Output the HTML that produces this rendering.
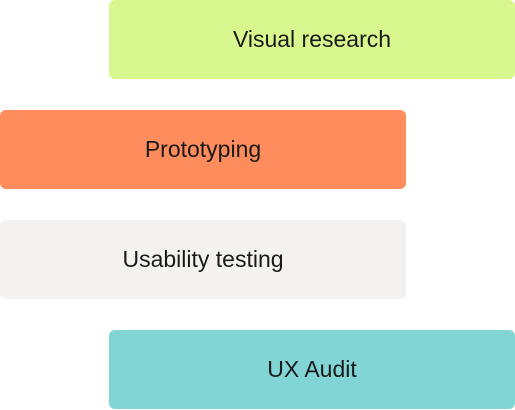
<!DOCTYPE html>
<html><head><meta charset="utf-8"><style>
html,body{margin:0;padding:0;background:#fff;width:515px;height:410px;overflow:hidden}
.b{position:absolute;width:406px;height:79px;border-radius:6px;display:flex;align-items:center;justify-content:center;font-family:"Liberation Sans",sans-serif;font-size:23px;color:#1a1a1a}
</style></head><body>
<div class="b" style="left:109px;top:0;background:#d9f78f">Visual research</div>
<div class="b" style="left:0;top:110px;background:#ff8c5c">Prototyping</div>
<div class="b" style="left:0;top:220px;background:#f3f2f0">Usability testing</div>
<div class="b" style="left:109px;top:330px;background:#82d5d5">UX Audit</div>
</body></html>
